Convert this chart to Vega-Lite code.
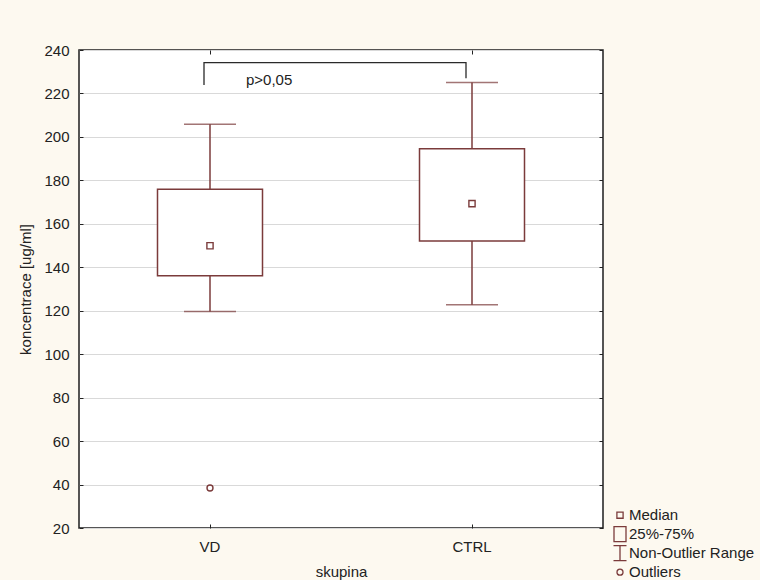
{
  "$schema": "https://vega.github.io/schema/vega-lite/v6.json",
  "width": 524,
  "height": 478,
  "autosize": {"type": "none"},
  "padding": {"left": 79, "top": 50, "right": 157, "bottom": 52},
  "background": "#fdf9f0",
  "config": {
    "font": "Liberation Sans",
    "view": {"fill": "white", "stroke": "#1e1e1e", "strokeWidth": 1.5}
  },
  "resolve": {"axis": {"x": "independent", "y": "independent"}},
  "datasets": {
    "stats": [
      {"skupina": "VD", "low": 119.6, "q1": 136.1, "q3": 175.9, "high": 205.8},
      {"skupina": "CTRL", "low": 122.7, "q1": 152.1, "q3": 194.6, "high": 225.0}
    ],
    "points": [
      {"skupina": "VD", "kind": "Median", "value": 149.9},
      {"skupina": "CTRL", "kind": "Median", "value": 169.3},
      {"skupina": "VD", "kind": "Outliers", "value": 38.4}
    ],
    "bracket": [
      {"i": 1, "skupina": "VD", "value": 223.9},
      {"i": 2, "skupina": "VD", "value": 234.2},
      {"i": 3, "skupina": "CTRL", "value": 234.2},
      {"i": 4, "skupina": "CTRL", "value": 227.0}
    ],
    "note": [
      {"skupina": "VD", "value": 226.3, "label": "p>0,05"}
    ]
  },
  "encoding": {
    "x": {
      "field": "skupina",
      "type": "nominal",
      "sort": ["VD", "CTRL"],
      "scale": {"domain": ["VD", "CTRL"], "paddingInner": 0, "paddingOuter": 0},
      "axis": null
    }
  },
  "layer": [
    {
      "data": {"name": "stats"},
      "mark": {"type": "rule", "color": "#7b3b3b", "strokeWidth": 1.5},
      "encoding": {
        "x": {
          "field": "skupina",
          "type": "nominal",
          "sort": ["VD", "CTRL"],
          "axis": {
            "orient": "bottom",
            "title": "skupina",
            "labelAngle": 0,
            "labelFontSize": 15,
            "labelColor": "#222",
            "titleFontSize": 15,
            "titleFontWeight": "normal",
            "titleColor": "#222",
            "domain": false,
            "grid": false,
            "ticks": true,
            "tickSize": -4,
            "tickColor": "#222",
            "labelPadding": 15,
            "titlePadding": 10
          }
        },
        "y": {
          "field": "low",
          "type": "quantitative",
          "scale": {"domain": [20, 240], "nice": false, "zero": false},
          "axis": {
            "orient": "left",
            "title": "koncentrace [ug/ml]",
            "values": [20, 40, 60, 80, 100, 120, 140, 160, 180, 200, 220, 240],
            "grid": true,
            "gridColor": "#d9d9d9",
            "gridWidth": 1,
            "domain": false,
            "ticks": true,
            "tickSize": -4,
            "tickColor": "#222",
            "labelPadding": 14,
            "labelFontSize": 15,
            "labelColor": "#222",
            "titleFontSize": 15,
            "titleFontWeight": "normal",
            "titleColor": "#222",
            "titlePadding": 10
          }
        },
        "y2": {"field": "high"}
      }
    },
    {
      "data": {"name": "stats"},
      "mark": {"type": "tick", "color": "#7b3b3b", "size": 52, "thickness": 1.5},
      "encoding": {"y": {"field": "low", "type": "quantitative", "axis": null}}
    },
    {
      "data": {"name": "stats"},
      "mark": {"type": "tick", "color": "#7b3b3b", "size": 52, "thickness": 1.5},
      "encoding": {"y": {"field": "high", "type": "quantitative", "axis": null}}
    },
    {
      "data": {"name": "stats"},
      "mark": {"type": "bar", "fill": "white", "stroke": "#7b3b3b", "strokeWidth": 1.5, "size": 105},
      "encoding": {
        "y": {"field": "q1", "type": "quantitative", "axis": null},
        "y2": {"field": "q3"}
      }
    },
    {
      "data": {"name": "points"},
      "mark": {"type": "point", "filled": false, "color": "#7b3b3b", "strokeWidth": 1.4, "size": 400, "opacity": 1},
      "encoding": {
        "y": {"field": "value", "type": "quantitative", "axis": null},
        "shape": {
          "field": "kind",
          "type": "nominal",
          "scale": {
            "domain": ["Median", "25%-75%", "Non-Outlier Range", "Outliers"],
            "range": [
              "M-0.31,-0.31H0.31V0.31H-0.31Z",
              "M-0.6,-0.75H0.6V0.75H-0.6Z",
              "M-0.65,-0.75H0.65M0,-0.75V0.75M-0.65,0.75H0.65",
              "M0.3,0A0.3,0.3 0 1,1 -0.3,0A0.3,0.3 0 1,1 0.3,0Z"
            ]
          },
          "legend": {
            "title": null,
            "orient": "none",
            "legendX": 530,
            "legendY": 456,
            "padding": 0,
            "symbolSize": 400,
            "symbolStrokeWidth": 1.3,
            "symbolStrokeColor": "#7b3b3b",
            "symbolFillColor": "transparent",
            "labelFontSize": 15,
            "labelColor": "#222",
            "labelOffset": -2,
            "rowPadding": 0,
            "clipHeight": 18.3,
            "labelLimit": 300
          }
        }
      }
    },
    {
      "data": {"name": "bracket"},
      "mark": {"type": "line", "color": "#2a2a2a", "strokeWidth": 1.3, "xOffset": -6},
      "encoding": {
        "x": {
          "field": "skupina",
          "type": "nominal",
          "sort": ["VD", "CTRL"],
          "axis": {
            "orient": "top",
            "title": null,
            "labels": false,
            "domain": false,
            "grid": false,
            "ticks": true,
            "tickSize": -4,
            "tickColor": "#222"
          }
        },
        "y": {
          "field": "value",
          "type": "quantitative",
          "axis": {
            "orient": "right",
            "title": null,
            "labels": false,
            "values": [20, 40, 60, 80, 100, 120, 140, 160, 180, 200, 220, 240],
            "domain": false,
            "grid": false,
            "ticks": true,
            "tickSize": -4,
            "tickColor": "#222"
          }
        },
        "order": {"field": "i", "type": "quantitative"}
      }
    },
    {
      "data": {"name": "note"},
      "mark": {"type": "text", "align": "left", "baseline": "middle", "dx": 36, "fontSize": 15, "color": "#222"},
      "encoding": {
        "y": {"field": "value", "type": "quantitative", "axis": null},
        "text": {"field": "label"}
      }
    }
  ]
}
